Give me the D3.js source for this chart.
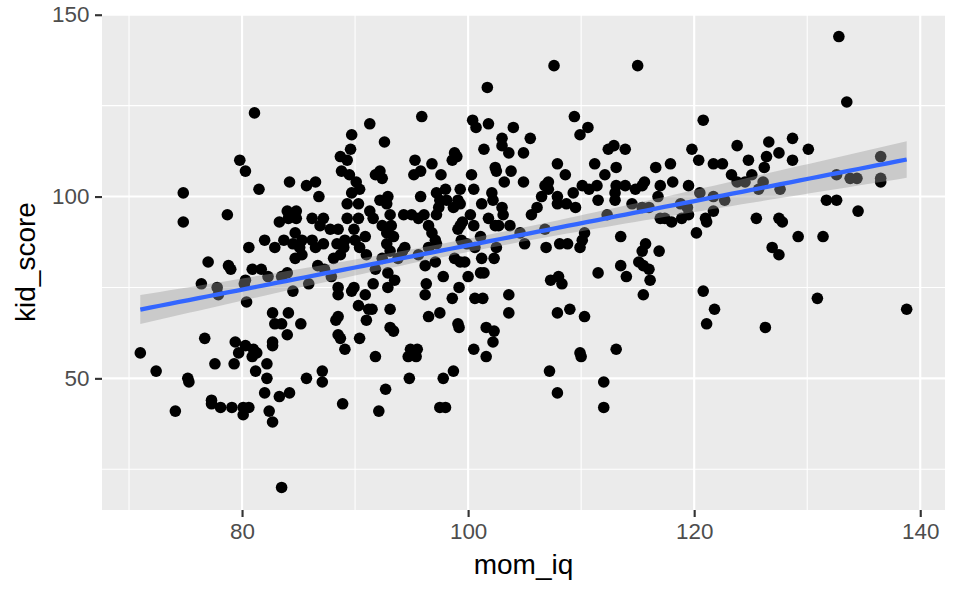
<!DOCTYPE html>
<html>
<head>
<meta charset="utf-8">
<script src="https://cdn.jsdelivr.net/npm/d3@7"></script>
<style>
  body { margin: 0; background: #fff; }
  text { font-family: "Liberation Sans", Arial, sans-serif; }
</style>
</head>
<body>
<svg id="chart" width="960" height="593"></svg>
<script>
// mother's IQ and child's test score
const momIq = [
  81.1, 91.3, 89.7, 92.6, 89.6, 88.7, 89.3, 79.8, 80.3, 88.8, 89.5, 90.1, 92.2, 91.8, 92.4, 84.2, 86.5, 85.7, 81.5, 74.8,
  101.7, 107.6, 115.0, 95.9, 100.4, 100.7, 101.8, 104.0, 103.0, 105.5, 103.0, 103.6, 101.4, 104.9, 109.4, 110.6, 109.9, 112.4, 112.9, 113.9,
  95.3, 98.8, 98.6, 99.0, 96.8, 95.2, 95.8, 97.6, 100.3, 102.4, 102.5, 103.8, 103.2, 104.9, 107.9, 108.6, 107.1, 106.8, 111.2, 113.1,
  112.1, 111.4, 115.6, 116.6, 132.8, 133.5, 120.8, 119.8, 120.4, 117.9, 117.0, 118.1, 119.5, 121.7, 122.5, 123.8, 124.8, 123.3, 125.1, 126.6,
  126.4, 126.2, 127.5, 128.7, 128.7, 130.1, 123.8, 124.5, 126.1, 127.6, 132.6, 133.8, 134.4, 136.5, 136.5, 136.5, 120.5, 116.8, 118.8, 119.4,
  121.7, 122.7, 125.7, 117.0, 118.0, 118.9, 119.5, 117.4, 121.7, 121.0, 121.1, 120.2, 125.5, 127.5, 127.8, 131.7, 132.6, 134.5, 129.2, 131.4,
  126.9, 127.5, 116.9, 120.8, 121.8, 121.1, 126.3, 130.9, 138.8, 92.9, 92.8, 93.1, 94.3, 95.0, 95.6, 96.1, 95.8, 97.2, 98.0, 97.5,
  97.4, 97.2, 99.3, 99.3, 100.5, 101.2, 102.1, 102.2, 103.0, 103.1, 101.8, 100.2, 100.5, 99.3, 99.1, 96.5, 96.8, 93.2, 93.4, 94.4,
  93.8, 95.6, 96.5, 97.2, 96.2, 97.1, 99.4, 99.9, 98.8, 99.3, 99.7, 100.6, 101.2, 102.4, 102.7, 103.7, 102.5, 102.3, 104.6, 105.0,
  105.6, 106.1, 106.5, 107.1, 106.8, 106.9, 107.9, 107.9, 108.1, 108.8, 108.7, 109.5, 109.3, 109.9, 110.1, 110.3, 110.7, 111.5, 112.3, 113.0,
  113.0, 113.9, 114.5, 115.4, 116.0, 114.8, 115.4, 113.5, 115.7, 115.4, 115.1, 115.5, 116.0, 116.1, 113.5, 114.0, 115.5, 111.5, 107.3, 108.0,
  108.3, 92.9, 93.5, 92.9, 96.3, 96.2, 97.8, 100.0, 101.1, 101.4, 99.2, 98.6, 100.6, 101.3, 103.6, 103.6, 93.1, 96.5, 97.5, 93.1,
  93.4, 99.1, 99.2, 101.6, 102.3, 102.2, 107.9, 109.0, 110.3, 94.9, 95.5, 100.5, 113.1, 109.9, 101.6, 110.1, 113.1, 74.8, 78.7, 86.8,
  89.7, 90.4, 89.3, 90.3, 92.2, 91.3, 91.6, 84.0, 84.8, 84.1, 84.8, 83.3, 86.2, 87.2, 86.9, 87.8, 88.5, 89.3, 90.3, 89.9,
  90.9, 92.4, 92.8, 84.7, 85.3, 86.2, 84.5, 85.1, 86.5, 87.2, 82.0, 82.9, 83.7, 80.6, 88.4, 89.0, 88.7, 88.1, 90.4, 91.0,
  84.7, 85.3, 86.7, 87.3, 87.9, 92.4, 91.8, 77.0, 78.8, 79.0, 80.9, 81.7, 82.3, 80.3, 80.2, 83.5, 84.0, 85.9, 76.4, 77.8,
  77.9, 84.5, 80.4, 88.5, 88.5, 89.7, 89.9, 91.6, 90.9, 90.3, 91.2, 91.5, 88.5, 88.3, 91.0, 82.7, 84.1, 82.9, 83.5, 85.2,
  84.0, 82.7, 76.7, 88.5, 88.7, 90.4, 89.1, 79.4, 80.3, 81.0, 79.7, 81.3, 71.0, 91.8, 72.4, 75.2, 75.3, 74.1, 77.6, 79.3,
  80.9, 82.2, 81.2, 82.2, 82.0, 83.3, 84.2, 82.4, 82.7, 77.3, 77.3, 78.1, 79.1, 80.1, 80.6, 80.1, 83.5, 82.7, 85.7, 87.1,
  87.1, 88.9, 92.7, 92.1, 94.7, 95.4, 94.8, 97.8, 98.7, 97.5, 98.0, 107.2, 107.9, 110.0, 112.0, 112.0, 89.1, 90.0, 98.1, 99.1,
  98.7, 99.5, 97.1, 92.8, 93.1, 94.2, 101.1
];
const kidScore = [
  123, 120, 117, 115, 113, 111, 110, 110, 107, 107, 106, 104, 107, 106, 105, 104, 104, 103, 102, 101,
  130, 136, 136, 122, 121, 119, 120, 119, 116, 116, 114, 112, 113, 112, 122, 119, 117, 113, 114, 113,
  110, 112, 110, 111, 109, 106, 107, 106, 106, 108, 107, 107, 104, 104, 109, 106, 104, 103, 109, 108,
  106, 103, 104, 108, 144, 126, 121, 113, 110, 109, 103, 104, 103, 109, 109, 114, 110, 106, 106, 115,
  111, 108, 112, 116, 110, 113, 104, 104, 104, 102, 106, 105, 105, 111, 105, 104, 101, 100, 98, 97,
  100, 99, 102, 94, 93, 94, 95, 94, 96, 94, 93, 90, 94, 94, 93, 99, 99, 96, 89, 89,
  86, 84, 85, 74, 69, 65, 64, 72, 69, 100, 98, 95, 95, 95, 94, 95, 100, 101, 102, 99,
  97, 95, 102, 98, 102, 98, 101, 99, 97, 95, 94, 95, 92, 92, 91, 92, 90, 92, 89, 86,
  83, 84, 86, 87, 81, 82, 88, 87, 83, 82, 82, 86, 83, 92, 92, 92, 86, 83, 90, 87,
  95, 97, 100, 102, 91, 86, 100, 98, 87, 87, 98, 97, 101, 86, 88, 90, 102, 99, 95, 99,
  101, 103, 98, 97, 97, 102, 103, 89, 87, 85, 82, 81, 80, 77, 81, 78, 73, 79, 77, 78,
  76, 79, 77, 75, 76, 73, 78, 78, 79, 79, 75, 72, 72, 72, 73, 68, 69, 67, 68, 64,
  63, 65, 64, 64, 63, 60, 68, 69, 67, 58, 58, 58, 58, 57, 56, 103, 103, 93, 95, 100,
  101, 102, 98, 98, 99, 96, 94, 96, 96, 94, 94, 93, 94, 94, 92, 91, 91, 94, 94, 91,
  89, 92, 90, 90, 88, 88, 87, 86, 86, 87, 88, 86, 88, 86, 87, 86, 84, 83, 86, 84,
  83, 84, 81, 80, 78, 83, 80, 82, 81, 80, 80, 80, 78, 77, 76, 78, 79, 76, 76, 75,
  73, 74, 71, 75, 73, 74, 75, 76, 73, 70, 69, 69, 67, 66, 66, 68, 68, 65, 65, 65,
  62, 60, 61, 62, 61, 61, 58, 60, 59, 58, 57, 57, 57, 56, 52, 50, 49, 41, 54, 54,
  56, 54, 52, 50, 46, 45, 46, 41, 38, 44, 43, 42, 42, 42, 42, 40, 20, 59, 50, 52,
  49, 43, 47, 41, 56, 56, 50, 50, 52, 42, 42, 52, 46, 56, 49, 42, 88, 88, 99, 99,
  97, 93, 88, 87, 85, 85, 89
];
const xTicks = [80, 100, 120, 140];
const xMinor = [70, 90, 110, 130];
const yTicks = [50, 100, 150];
const yMinor = [25, 75, 125];

const data = momIq.map((m, i) => ({ x: m, y: kidScore[i] }));

const svg = d3.select('#chart');
const panel = { left: 102, right: 945, top: 14, bottom: 510 };

// ggplot-style 5% expansion of the data range
function expand(ext) {
  const pad = (ext[1] - ext[0]) * 0.05;
  return [ext[0] - pad, ext[1] + pad];
}

const x = d3.scaleLinear()
  .domain(expand(d3.extent(momIq)))
  .range([panel.left, panel.right]);
const y = d3.scaleLinear()
  .domain(expand(d3.extent(kidScore)))
  .range([panel.bottom, panel.top]);

// panel background
svg.append('rect')
  .attr('x', panel.left).attr('y', panel.top)
  .attr('width', panel.right - panel.left)
  .attr('height', panel.bottom - panel.top)
  .attr('fill', '#EBEBEB');

// grid lines
const grid = svg.append('g');
grid.selectAll('.xminor').data(xMinor).enter().append('line')
  .attr('x1', d => x(d)).attr('x2', d => x(d))
  .attr('y1', panel.top).attr('y2', panel.bottom)
  .attr('stroke', '#fff').attr('stroke-width', 1.07);
grid.selectAll('.yminor').data(yMinor).enter().append('line')
  .attr('y1', d => y(d)).attr('y2', d => y(d))
  .attr('x1', panel.left).attr('x2', panel.right)
  .attr('stroke', '#fff').attr('stroke-width', 1.07);
grid.selectAll('.xmajor').data(xTicks).enter().append('line')
  .attr('x1', d => x(d)).attr('x2', d => x(d))
  .attr('y1', panel.top).attr('y2', panel.bottom)
  .attr('stroke', '#fff').attr('stroke-width', 2.13);
grid.selectAll('.ymajor').data(yTicks).enter().append('line')
  .attr('y1', d => y(d)).attr('y2', d => y(d))
  .attr('x1', panel.left).attr('x2', panel.right)
  .attr('stroke', '#fff').attr('stroke-width', 2.13);

// points
svg.append('g').selectAll('circle')
  .data(data)
  .enter().append('circle')
    .attr('cx', d => x(d.x))
    .attr('cy', d => y(d.y))
    .attr('r', 5.8)
    .attr('fill', '#000');

// linear fit with 95% confidence band
const n = data.length;
const mx = d3.mean(momIq), my = d3.mean(kidScore);
const sxx = d3.sum(momIq, v => (v - mx) * (v - mx));
const sxy = d3.sum(data, d => (d.x - mx) * (d.y - my));
const slope = sxy / sxx;
const intercept = my - slope * mx;
const rss = d3.sum(data, d => Math.pow(d.y - (intercept + slope * d.x), 2));
const sigma = Math.sqrt(rss / (n - 2));
const tq = 1.966;

const [xLo, xHi] = d3.extent(momIq);
const fit = d3.range(80).map(i => {
  const xv = xLo + (xHi - xLo) * i / 79;
  const yv = intercept + slope * xv;
  const se = sigma * Math.sqrt(1 / n + (xv - mx) * (xv - mx) / sxx);
  return { x: xv, y: yv, lo: yv - tq * se, hi: yv + tq * se };
});

svg.append('path')
  .datum(fit)
  .attr('fill', '#999999')
  .attr('fill-opacity', 0.4)
  .attr('d', d3.area()
    .x(d => x(d.x))
    .y0(d => y(d.lo))
    .y1(d => y(d.hi)));

svg.append('path')
  .datum(fit)
  .attr('fill', 'none')
  .attr('stroke', '#3366FF')
  .attr('stroke-width', 4.3)
  .attr('d', d3.line()
    .x(d => x(d.x))
    .y(d => y(d.y)));

// axes
const xAxis = svg.append('g')
  .attr('transform', 'translate(0,' + panel.bottom + ')')
  .call(d3.axisBottom(x).tickValues(xTicks).tickSize(7).tickPadding(5.6));
const yAxis = svg.append('g')
  .attr('transform', 'translate(' + panel.left + ',0)')
  .call(d3.axisLeft(y).tickValues(yTicks).tickSize(7).tickPadding(5.6));

[xAxis, yAxis].forEach(a => {
  a.select('.domain').remove();
  a.selectAll('.tick line').attr('stroke', '#333333').attr('stroke-width', 2.13);
  a.selectAll('.tick text')
    .attr('fill', '#4D4D4D')
    .style('font-size', '22.4px')
    .style('font-family', '"Liberation Sans", Arial, sans-serif');
});

// axis titles
svg.append('text')
  .attr('x', (panel.left + panel.right) / 2)
  .attr('y', 574)
  .attr('text-anchor', 'middle')
  .style('font-size', '28px')
  .attr('fill', '#000')
  .text('mom_iq');

svg.append('text')
  .attr('transform', 'translate(35,' + (panel.top + panel.bottom) / 2 + ') rotate(-90)')
  .attr('text-anchor', 'middle')
  .style('font-size', '28px')
  .attr('fill', '#000')
  .text('kid_score');
</script>
</body>
</html>
